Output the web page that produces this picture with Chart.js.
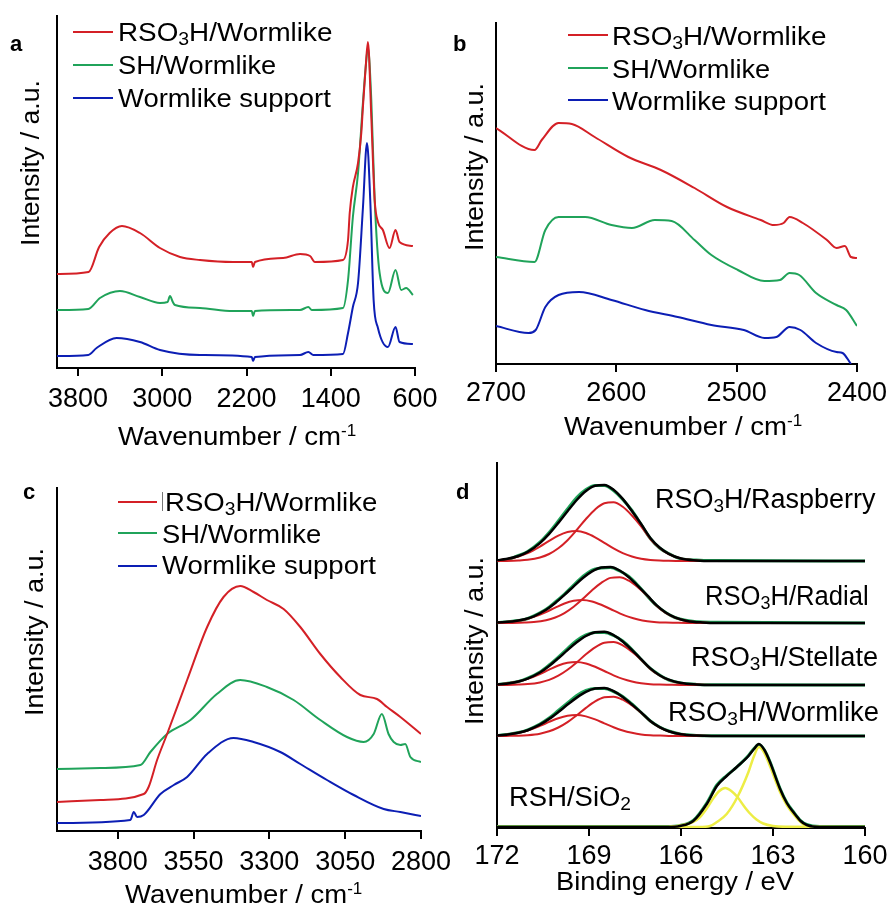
<!DOCTYPE html>
<html lang="en">
<head>
<meta charset="UTF-8">
<title>FTIR and XPS spectra</title>
<script src="https://cdn.jsdelivr.net/npm/chart.js"></script>
<style>
  body { margin: 0; background: #fff; width: 892px; height: 905px; position: relative; overflow: hidden;
         font-family: "Liberation Sans", Arial, sans-serif; color: #000; }
  canvas { position: absolute; }
  .lbl { position: absolute; white-space: nowrap; line-height: 1; transform-origin: 0 50%; }
  .lbl sub { font-size: 0.7em; line-height: 0; vertical-align: -0.22em; }
  .lbl sup { font-size: 0.62em; line-height: 0; vertical-align: 0.55em; }
  .key { position: absolute; height: 2px; }
  .tag { position: absolute; font-weight: bold; font-size: 22px; line-height: 1; }
</style>
</head>
<body>
<canvas id="chartA" width="446" height="460" style="left:0;top:0;width:446px;height:460px"></canvas>
<canvas id="chartB" width="446" height="460" style="left:446px;top:0;width:446px;height:460px"></canvas>
<canvas id="chartC" width="480" height="465" style="left:0;top:440px;width:480px;height:465px"></canvas>
<canvas id="chartD" width="446" height="465" style="left:446px;top:440px;width:446px;height:465px"></canvas>

<script>
// ---- panel a: full FTIR range (wavenumber, intensity a.u.)
const aRedX   = [4000, 3700, 3600, 3500, 3383, 3212, 3022, 2832, 2642, 2328, 2150, 2138, 2120, 1853, 1692, 1597, 1550, 1284, 1236, 1220, 1190, 1141, 1110, 1094, 1069, 1047, 1015, 983, 952, 905, 842, 785, 747, 620];
const aRed    = [94, 96, 121, 135, 142, 135, 120, 111, 108, 106, 106, 101, 106, 110, 114, 112, 106, 108, 128, 155, 181, 205, 235, 262, 300, 326, 251, 168, 146, 138, 120, 138, 126, 122];
const aGreenX = [4000, 3703, 3592, 3402, 3212, 3022, 2950, 2927, 2900, 2880, 2642, 2328, 2150, 2138, 2120, 1692, 1613, 1580, 1284, 1236, 1190, 1141, 1094, 1069, 1047, 1015, 983, 936, 857, 785, 731, 684, 620];
const aGreen  = [58, 59, 70, 77, 71, 65, 66, 72, 66, 63, 60, 57, 57, 52, 57, 58, 61, 58, 60, 88, 151, 195, 266, 300, 320, 268, 168, 95, 75, 98, 78, 80, 73];
const aBlueX  = [4000, 3703, 3624, 3434, 3212, 3022, 2642, 2150, 2138, 2120, 1692, 1613, 1565, 1284, 1236, 1190, 1141, 1094, 1056, 1025, 993, 952, 857, 785, 747, 620];
const aBlue   = [12, 13, 20, 30, 26, 18, 13, 11, 7, 11, 13, 16, 13, 14, 35, 61, 85, 161, 225, 168, 68, 40, 21, 41, 26, 24];
const aTicks  = [3800, 3000, 2200, 1400, 600];

// ---- panel b: 2700-2400 cm-1
const bRedX   = [2700, 2668, 2662, 2648, 2637, 2618, 2590, 2563, 2535, 2508, 2480, 2469, 2461, 2456, 2445, 2425, 2417, 2410, 2405, 2400];
const bRed    = [236, 214, 224, 241, 240, 227, 207, 194, 176, 157, 144, 139, 141, 147, 141, 124, 116, 118, 107, 106];
const bGreenX = [2700, 2668, 2659, 2648, 2626, 2604, 2587, 2568, 2554, 2535, 2521, 2499, 2477, 2464, 2456, 2448, 2434, 2417, 2409, 2400];
const bGreen  = [107, 102, 134, 147, 147, 139, 136, 144, 143, 124, 109, 94, 83, 84, 91, 89, 71, 59, 54, 38];
const bBlueX  = [2700, 2673, 2667, 2659, 2648, 2631, 2604, 2576, 2549, 2521, 2494, 2477, 2467, 2456, 2447, 2434, 2417, 2412, 2405];
const bBlue   = [38, 31, 34, 57, 69, 72, 64, 54, 47, 39, 34, 26, 27, 37, 34, 21, 12, 11, 0];
const bTicks  = [2700, 2600, 2500, 2400];

// ---- panel c: 4000-2800 cm-1
const cRedX   = [4000, 3857, 3714, 3698, 3670, 3637, 3571, 3505, 3451, 3396, 3352, 3308, 3253, 3198, 3132, 3066, 3000, 2945, 2912, 2868, 2800];
const cRed    = [29, 31, 37, 44, 71, 97, 151, 204, 234, 245, 239, 231, 222, 204, 177, 154, 136, 132, 124, 114, 97];
const cGreenX = [4000, 3857, 3725, 3692, 3637, 3560, 3473, 3396, 3308, 3220, 3132, 3044, 2989, 2956, 2929, 2907, 2890, 2868, 2852, 2835, 2800];
const cGreen  = [62, 63, 66, 79, 97, 111, 137, 151, 144, 131, 111, 94, 89, 97, 117, 97, 89, 86, 87, 74, 69];
const cBlueX  = [4000, 3758, 3747, 3736, 3714, 3659, 3615, 3571, 3505, 3418, 3352, 3264, 3198, 3110, 3022, 2923, 2868, 2800];
const cBlue   = [8, 11, 19, 14, 16, 37, 46, 54, 77, 93, 89, 79, 67, 51, 36, 22, 19, 15];
const cTicks  = [3800, 3550, 3300, 3050, 2800];

// ---- panel d: S 2p XPS (binding energy eV), each sample: two components + envelope + data
const dGrid   = [172, 171.7, 171.3, 171.0, 170.6, 170.3, 170.0, 169.7, 169.4, 169.1, 168.8, 168.5, 168.2, 167.9, 167.6, 167.3, 167.0, 166.7, 166.4, 166.0, 165.5, 165, 160];
const dGridRad = [172, 171.5, 171.1, 170.8, 170.4, 170.1, 169.8, 169.5, 169.2, 168.9, 168.6, 168.3, 168.0, 167.7, 167.4, 167.1, 166.8, 166.5, 166.2, 165.8, 165.3, 164.8, 160];

const rasC1  = [0.8, 1.8, 4.5, 7.9, 14.4, 20.1, 25.4, 29, 30, 28, 23.7, 18.2, 12.6, 7.9, 4.5, 2.3, 1.1, 0.5, 0.2, 0, 0, 0, 0];
const rasC2  = [0, 0.1, 0.5, 1.2, 3.5, 7, 12.7, 20.8, 31, 42, 51.6, 57.8, 58.7, 54.2, 45.5, 34.7, 22, 13, 7, 2.5, 0.6, 0, 0];
const rasEnv = [0.8, 1.9, 5.0, 9.1, 17.9, 27.1, 38.1, 49.8, 61, 70, 75.3, 76, 71.3, 62.1, 50, 37, 23.1, 13.5, 7.2, 2.5, 0.6, 0, 0];
const rasDat = [0.3, 1.0, 5.5, 9.5, 18.8, 28.5, 40, 52, 63.5, 71.5, 75.5, 75.5, 70.5, 61.5, 50.5, 36.5, 22.5, 13, 7.5, 2.0, 1.0, 0.5, 0];

const radC1  = [0.6, 1.4, 3.5, 6.1, 11, 15.4, 19.5, 22.2, 23, 21.5, 18.2, 14, 9.7, 6.1, 3.5, 1.8, 0.8, 0.4, 0.2, 0, 0, 0, 0];
const radC2  = [0, 0.1, 0.4, 0.9, 2.7, 5.5, 9.9, 16.2, 24.2, 32.8, 40.2, 45.1, 45.8, 42.3, 35.5, 27.1, 17.2, 10.1, 5.5, 2, 0.5, 0, 0];
const radEnv = [0.6, 1.4, 3.7, 6.7, 13.2, 20, 28.1, 36.7, 45, 51.6, 55.5, 56, 52.5, 45.8, 36.9, 27.6, 17.8, 10.5, 5.7, 2.1, 0.5, 0, 0];
const radDat = [0.3, 1.8, 3.5, 7.2, 13.8, 21, 29, 38, 46.5, 53, 55, 55.5, 52, 46.5, 37.5, 27, 17.5, 10.5, 5.5, 2.5, 1.0, 0.8, 0];

const steC1  = [0.6, 1.4, 3.5, 6.1, 11, 15.4, 19.5, 22.2, 23, 21.5, 18.2, 14, 9.7, 6.1, 3.5, 1.8, 0.8, 0.4, 0.2, 0, 0, 0, 0];
const steC2  = [0, 0.1, 0.4, 0.9, 2.6, 5.1, 9.3, 15.2, 22.6, 30.7, 37.7, 42.2, 42.9, 39.6, 33.2, 25.3, 16.1, 9.5, 5.1, 1.8, 0.4, 0, 0];
const steEnv = [0.6, 1.3, 3.5, 6.4, 12.5, 19, 26.7, 34.9, 42.7, 49, 52.7, 53.2, 49.9, 43.5, 35, 25.9, 16.6, 9.8, 5.3, 1.9, 0.5, 0, 0];
const steDat = [0.3, 1.5, 3.5, 6.8, 13, 20, 28, 36.5, 44.5, 50, 52.5, 52.5, 49.5, 44, 35.5, 25.5, 16.5, 10, 5, 2, 0.6, 0.3, 0];

const worC1  = [0.6, 1.3, 3.2, 5.5, 10.1, 14.1, 17.8, 20.3, 21, 19.6, 16.6, 12.7, 8.8, 5.5, 3.2, 1.6, 0.8, 0.4, 0.1, 0, 0, 0, 0];
const worC2  = [0, 0.1, 0.3, 0.8, 2.3, 4.7, 8.5, 13.9, 20.8, 28.1, 34.6, 38.7, 39.3, 36.3, 30.5, 23.2, 14.7, 8.7, 4.7, 1.7, 0.4, 0, 0];
const worEnv = [0.6, 1.3, 3.3, 5.8, 11.3, 17.1, 24, 31.4, 38.4, 44.1, 47.4, 47.9, 44.9, 39.1, 31.5, 23.6, 15, 8.9, 4.8, 1.7, 0.4, 0, 0];
const worDat = [0.3, 1.5, 3.5, 6.2, 12, 18, 25.5, 33, 40.5, 45.5, 47.5, 47.5, 44.5, 39.5, 32, 23.5, 15, 9, 5, 1.8, 0.6, 0.3, 0];

const rshXA = [172, 166.5, 166.03, 165.8, 165.6, 165.38, 165.16, 164.94, 164.75, 164.56, 164.36, 164.16, 163.96, 163.75, 163.54, 163.32, 163.0, 162.6, 160];
const rshA  = [0, 0, 1.5, 3, 5, 10, 18.5, 29, 36, 39, 36, 30, 21.5, 13.5, 7.5, 3.5, 1, 0.2, 0];
const rshXB = [172, 165.4, 165.05, 164.83, 164.51, 164.16, 163.80, 163.63, 163.46, 163.28, 163.10, 162.77, 162.55, 162.34, 162.1, 161.9, 161.5, 160];
const rshB  = [0, 0, 1, 5, 13, 30, 55, 70, 80, 74, 61, 35, 22, 13, 5, 1, 0, 0];
const rshXE = [172, 166.46, 166.03, 165.60, 165.16, 164.83, 164.51, 164.18, 163.80, 163.62, 163.46, 163.28, 163.10, 162.77, 162.55, 162.34, 162.1, 161.90, 161.47, 160];
const rshE  = [0, 0, 1, 6, 23, 41, 51, 60, 71, 78, 83, 77, 65, 38, 24, 15, 6, 2, 0, 0];
const rshD  = [0.5, 0.5, 1.5, 6.5, 24, 42, 51.5, 60, 71.5, 78.5, 82.5, 77, 65.5, 38.5, 24.5, 15.5, 6.5, 2.5, 0.5, 0.5];

const dOffsets = [267, 205, 143, 92, 1];   // raspberry, radial, stellate, wormlike, RSH/SiO2
const dTicks   = [172, 169, 166, 163, 160];

const RED = '#d42026', GREEN = '#20a35a', BLUE = '#0c1eb4', BLACK = '#000', YELLOW = '#eded45';
const FONT = '"Liberation Sans", Arial, sans-serif';
Chart.defaults.font.family = FONT;

function line(xs, ys, color, width, off) {
  off = off || 0;
  return {
    data: xs.map((x, i) => ({ x: x, y: ys[i] + off })),
    borderColor: color, borderWidth: width, pointRadius: 0, fill: false,
    cubicInterpolationMode: 'monotone'
  };
}

function makeChart(id, datasets, xmin, xmax, ymax, ticks, tickPad, pad) {
  new Chart(document.getElementById(id), {
    type: 'line',
    data: { datasets: datasets },
    options: {
      responsive: false, animation: false, parsing: true,
      layout: { padding: pad },
      plugins: { legend: { display: false }, tooltip: { enabled: false } },
      scales: {
        x: {
          type: 'linear', reverse: true, min: xmin, max: xmax,
          afterBuildTicks: s => { s.ticks = ticks.map(v => ({ value: v })); },
          afterFit: s => { s.height = 60; },
          grid: { display: true, drawOnChartArea: false, drawTicks: true, tickLength: 8,
                  tickColor: BLACK, tickWidth: 2, color: BLACK, lineWidth: 2 },
          border: { display: true, color: BLACK, width: 2 },
          ticks: { color: BLACK, font: { size: 27 }, padding: tickPad, maxRotation: 0,
                   autoSkip: false, callback: v => String(v) }
        },
        y: {
          min: 0, max: ymax,
          afterFit: s => { s.width = 0; },
          grid: { display: false },
          border: { display: true, color: BLACK, width: 2 },
          ticks: { display: false }
        }
      }
    }
  });
}

makeChart('chartA', [
  line(aRedX, aRed, RED, 2), line(aGreenX, aGreen, GREEN, 2), line(aBlueX, aBlue, BLUE, 2)
], 600, 4000, 352, aTicks, 7, { left: 57, right: 31, top: 16, bottom: 32 });

makeChart('chartB', [
  line(bRedX, bRed, RED, 2), line(bGreenX, bGreen, GREEN, 2), line(bBlueX, bBlue, BLUE, 2)
], 2400, 2700, 341, bTicks, 5, { left: 50, right: 32, top: 23, bottom: 36 });

makeChart('chartC', [
  line(cRedX, cRed, RED, 2), line(cGreenX, cGreen, GREEN, 2), line(cBlueX, cBlue, BLUE, 2)
], 2800, 4000, 343, cTicks, 7, { left: 57, right: 59, top: 48, bottom: 14 });

const samples = [
  [dGrid, rasC1, rasC2, rasEnv, rasDat],
  [dGridRad, radC1, radC2, radEnv, radDat],
  [dGrid, steC1, steC2, steEnv, steDat],
  [dGrid, worC1, worC2, worEnv, worDat]
];
const dSets = [];
samples.forEach((s, i) => dSets.push(line(s[0], s[3], BLACK, 2.5, dOffsets[i])));
dSets.push(line(rshXE, rshE, BLACK, 2.5, dOffsets[4]));
samples.forEach((s, i) => {
  dSets.push(line(s[0], s[1], RED, 2, dOffsets[i]));
  dSets.push(line(s[0], s[2], RED, 2, dOffsets[i]));
});
dSets.push(line(rshXA, rshA, YELLOW, 2.5, dOffsets[4]));
dSets.push(line(rshXB, rshB, YELLOW, 2.5, dOffsets[4]));
samples.forEach((s, i) => dSets.push(line(s[0], s[4], GREEN, 3, dOffsets[i])));
dSets.push(line(rshXE, rshD, GREEN, 3, dOffsets[4]));
makeChart('chartD', dSets, 160, 172, 365, dTicks, 4, { left: 51, right: 27, top: 23, bottom: 17 });

// ---- text overlays (legends, axis titles, sample labels)
function label(html, x, capY, w, size) {
  const el = document.createElement('div');
  el.className = 'lbl';
  el.style.fontSize = size + 'px';
  el.innerHTML = html;
  document.body.appendChild(el);
  const nat = el.offsetWidth;
  el.style.left = x + 'px';
  el.style.top = (capY - 0.4885 * size) + 'px';
  el.style.transform = 'scaleX(' + (w / nat) + ')';
  return el;
}
function ytitle(cx, cy, len) {
  const el = document.createElement('div');
  el.className = 'lbl';
  el.style.fontSize = '26px';
  el.style.transformOrigin = '50% 50%';
  el.textContent = 'Intensity / a.u.';
  document.body.appendChild(el);
  const nat = el.offsetWidth;
  el.style.left = (cx - nat / 2) + 'px';
  el.style.top = (cy - 13) + 'px';
  el.style.transform = 'rotate(-90deg) scaleX(' + (len / nat) + ')';
}
function key(x1, x2, y, color) {
  const el = document.createElement('div');
  el.className = 'key';
  el.style.left = x1 + 'px';
  el.style.width = (x2 - x1) + 'px';
  el.style.top = (y - 1) + 'px';
  el.style.background = color;
  document.body.appendChild(el);
}
function tag(t, x, baseline) {
  const el = document.createElement('div');
  el.className = 'tag';
  el.textContent = t;
  el.style.left = x + 'px';
  el.style.top = (baseline - 0.8465 * 22) + 'px';
  document.body.appendChild(el);
}

const names = ['RSO<sub>3</sub>H/Wormlike', 'SH/Wormlike', 'Wormlike support'];
const colors = [RED, GREEN, BLUE];
const wn = 'Wavenumber / cm<sup>-1</sup>';

// panel a
[32, 65, 98].forEach((y, i) => { key(73, 113, y, colors[i]); label(names[i], 118, y, [214, 158, 213][i], 26); });
ytitle(29.5, 163, 166);
label(wn, 237 - 119, 436, 238, 26);
tag('a', 10, 52);

// panel b
[36, 69, 100.5].forEach((y, i) => { key(568, 608, [35, 68, 100][i], colors[i]); label(names[i], 612, y, [214, 158, 214][i], 26); });
ytitle(473.5, 167, 168);
label(wn, 683 - 119, 425.5, 238, 26);
tag('b', 453, 52);

// panel c
[501.5, 533.5, 565].forEach((y, i) => { key(118, 157, [502, 533, 566][i], colors[i]); label(names[i], [165, 162, 162][i], y, [212, 159, 214][i], 26); });
const bar = document.createElement('div');
bar.style.cssText = 'position:absolute;left:162px;top:492px;width:1px;height:19px;background:#777';
document.body.appendChild(bar);
ytitle(34, 632, 168);
label(wn, 243 - 118, 894, 237, 26);
tag('c', 23, 500);

// panel d
label('RSO<sub>3</sub>H/Raspberry', 655, 499, 221, 27);
label('RSO<sub>3</sub>H/Radial', 705, 596, 164, 27);
label('RSO<sub>3</sub>H/Stellate', 691, 657, 187, 27);
label('RSO<sub>3</sub>H/Wormlike', 668, 712.5, 211, 27);
label('RSH/SiO<sub>2</sub>', 509, 797.5, 122, 27);
ytitle(473.5, 641, 168);
label('Binding energy / eV', 675 - 119, 881, 238, 26);
tag('d', 456, 500);
</script>
</body>
</html>
